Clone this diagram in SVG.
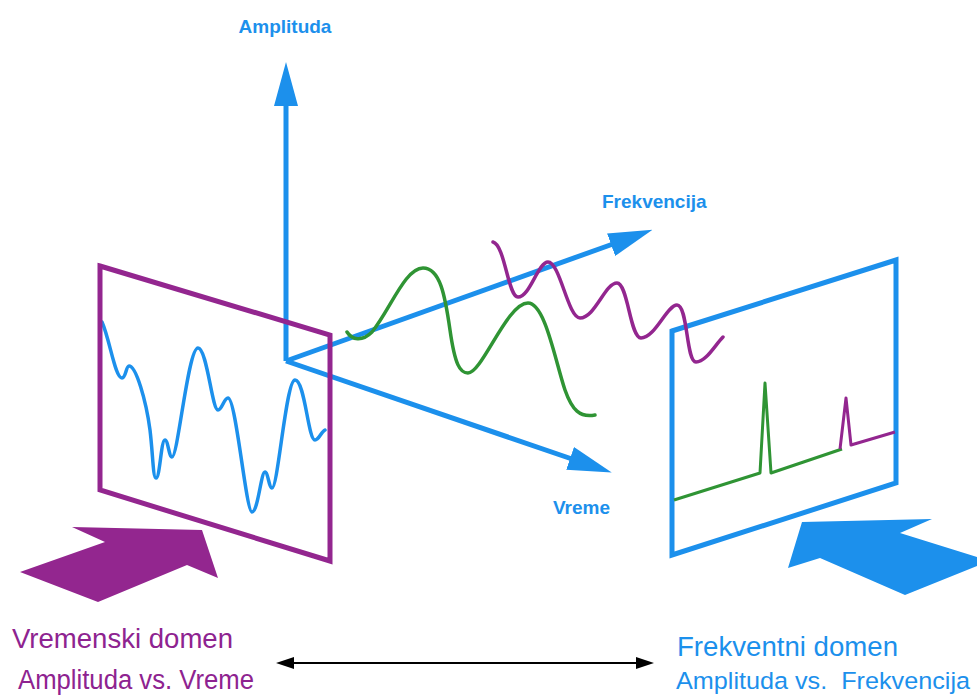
<svg xmlns="http://www.w3.org/2000/svg" width="977" height="697" viewBox="0 0 977 697">
<style>
.ax{stroke:#1c90ec;stroke-width:5;fill:none}
.pf{stroke:#93268f;stroke-width:5;fill:none;stroke-linejoin:miter}
.bf{stroke:#1c90ec;stroke-width:5;fill:none;stroke-linejoin:miter}
.w{fill:none;stroke-width:3.5;stroke-linecap:round;stroke-linejoin:round}
.lb{font-family:"Liberation Sans",Arial,sans-serif;font-weight:bold;font-size:19px;fill:#1c90ec}
.tp{font-family:"Liberation Sans",Arial,sans-serif;font-size:27px;fill:#8e2390}
.tb{font-family:"Liberation Sans",Arial,sans-serif;font-size:27px;fill:#1c90ec}
</style>
<defs>
<marker id="ah" viewBox="0 0 44 24" refX="2" refY="12" markerWidth="44" markerHeight="24" markerUnits="userSpaceOnUse" orient="auto">
<path d="M0,0 L44,12 L0,24 Z" fill="#1c90ec"/>
</marker>
<marker id="bk" viewBox="0 0 18 12" refX="2" refY="6" markerWidth="18" markerHeight="12" markerUnits="userSpaceOnUse" orient="auto">
<path d="M0,0 L18,6 L0,12 Z" fill="#000"/>
</marker>
<marker id="bks" viewBox="0 0 18 12" refX="16" refY="6" markerWidth="18" markerHeight="12" markerUnits="userSpaceOnUse" orient="auto">
<path d="M18,0 L0,6 L18,12 Z" fill="#000"/>
</marker>
</defs>
<rect width="977" height="697" fill="#fff"/>

<g id="connectors">
<line id="axis-amplituda" class="ax" x1="286" y1="361" x2="286" y2="104" marker-end="url(#ah)"/>
<line id="axis-frekvencija" class="ax" x1="286" y1="361" x2="613" y2="244" marker-end="url(#ah)"/>
<line id="axis-vreme" class="ax" x1="286" y1="361" x2="572" y2="459" marker-end="url(#ah)"/>
<line id="domain-arrow" x1="292" y1="663" x2="638" y2="663" stroke="#000" stroke-width="2.2" marker-start="url(#bks)" marker-end="url(#bk)"/>
</g>

<g id="waves">
<path id="green-wave" class="w" stroke="#2f9434" d="M347,332 C352,340 362,342 372,332 C390,310 405,268 423,268 C440,268 445,295 450,330 C455,365 460,373 468,373 C482,373 507,303 528,303 C545,303 555,360 565,390 C572,410 580,418 595,415"/>
</g>

<g id="time-domain">
<path id="time-signal" class="w" stroke="#1c90ec" d="M102,322 C110,340 115,378 122,378 C126,378 126,366 129,366 C136,366 146,400 150,430 C153,455 153,478 156,478 C160,478 161,440 165,440 C168,440 169,457 172,457 C178,457 188,348 198,348 C207,348 212,410 218,410 C222,410 224,398 228,398 C236,398 246,512 252,512 C258,512 261,472 265,472 C268,472 269,488 272,488 C278,488 286,380 295,380 C305,380 308,440 315,440 C319,440 321,432 325,430"/>
<polygon id="time-frame" class="pf" points="100,266 330,335 330,561 100,490"/>
<polygon id="time-arrow" fill="#93268f" points="20,572 105,542 72,527 202,530 218,578 187,565 98,602"/>
</g>

<g id="freq-domain">
<polygon id="freq-frame" class="bf" points="672,331 896,260 896,483 672,555"/>
<polyline id="green-spectrum" fill="none" stroke="#2f9434" stroke-width="3" stroke-linejoin="round" points="674,500 760,473 765,383 771,473 842,449"/>
<polyline id="purple-spectrum" fill="none" stroke="#93268f" stroke-width="3" stroke-linejoin="round" points="840,449 846,398 851,445 895,432"/>
<polygon id="freq-arrow" fill="#1c90ec" points="788,568 802,522 932,519 900,533 977,557 977,566 905,595 820,558"/>
</g>

<g id="purple-wave-g">
<path id="purple-wave" class="w" stroke="#93268f" d="M493,242 C505,245 508,297 518,297 C530,297 538,262 548,262 C560,262 568,318 580,318 C595,318 605,283 617,283 C628,283 630,338 641,338 C655,338 667,305 677,305 C688,305 686,362 696,362 C706,362 715,345 723,337"/>
</g>

<g id="labels">
<text class="lb" x="285" y="33" text-anchor="middle">Amplituda</text>
<text class="lb" x="602" y="208">Frekvencija</text>
<text class="lb" x="553" y="514">Vreme</text>
<text class="tp" x="12" y="648" textLength="221" lengthAdjust="spacingAndGlyphs">Vremenski domen</text>
<text class="tp" x="18" y="689" textLength="236" lengthAdjust="spacingAndGlyphs">Amplituda vs. Vreme</text>
<text class="tb" x="677" y="656" textLength="221" lengthAdjust="spacingAndGlyphs">Frekventni domen</text>
<text class="tb" x="676" y="689" xml:space="preserve" style="font-size:24.5px" textLength="294" lengthAdjust="spacingAndGlyphs">Amplituda vs.  Frekvencija</text>
</g>
</svg>
